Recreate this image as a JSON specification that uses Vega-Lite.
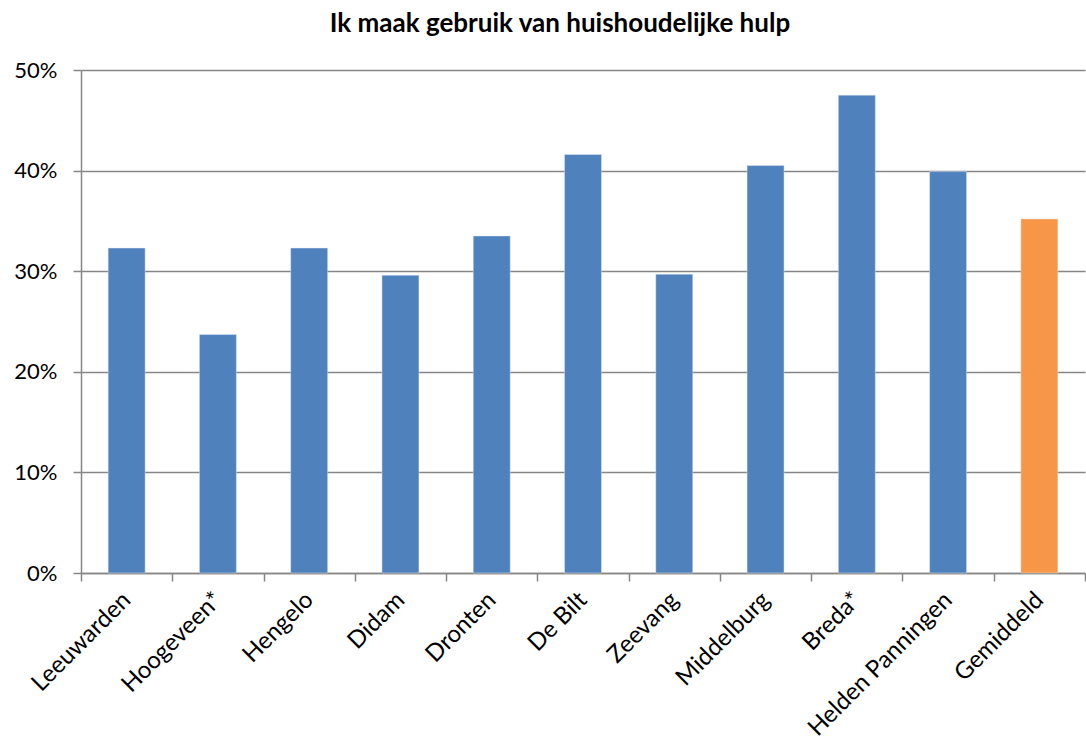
{
  "$schema": "https://vega.github.io/schema/vega-lite/v6.json",
  "width": 1004,
  "height": 503,
  "autosize": {"type": "none"},
  "padding": {"left": 81, "top": 70, "right": 1, "bottom": 171},
  "background": "#ffffff",
  "title": {
    "text": "Ik maak gebruik van huishoudelijke hulp",
    "font": "Lato",
    "fontSize": 26,
    "fontWeight": "bold",
    "color": "#000000",
    "anchor": "middle",
    "frame": "group",
    "dx": -23,
    "offset": 22
  },
  "data": {
    "values": [
      {"gemeente": "Leeuwarden", "pct": 0.323, "type": "gemeente"},
      {"gemeente": "Hoogeveen*", "pct": 0.237, "type": "gemeente"},
      {"gemeente": "Hengelo", "pct": 0.323, "type": "gemeente"},
      {"gemeente": "Didam", "pct": 0.296, "type": "gemeente"},
      {"gemeente": "Dronten", "pct": 0.335, "type": "gemeente"},
      {"gemeente": "De Bilt", "pct": 0.416, "type": "gemeente"},
      {"gemeente": "Zeevang", "pct": 0.297, "type": "gemeente"},
      {"gemeente": "Middelburg", "pct": 0.405, "type": "gemeente"},
      {"gemeente": "Breda*", "pct": 0.475, "type": "gemeente"},
      {"gemeente": "Helden Panningen", "pct": 0.399, "type": "gemeente"},
      {"gemeente": "Gemiddeld", "pct": 0.352, "type": "gemiddeld"}
    ]
  },
  "mark": {"type": "bar", "width": {"band": 0.405}, "stroke": "#dfe8f3", "strokeWidth": 0.8, "strokeOpacity": 0.6},
  "encoding": {
    "x": {
      "field": "gemeente",
      "type": "nominal",
      "sort": null,
      "title": null,
      "scale": {"paddingInner": 0, "paddingOuter": 0},
      "axis": {
        "labelAngle": -45,
        "labelAlign": "right",
        "labelBaseline": "middle",
        "labelFont": "Lato",
        "labelFontSize": 24,
        "labelColor": "#000000",
        "labelPadding": 15,
        "labelLimit": 400,
        "domainColor": "#868686",
        "domainWidth": 1.5,
        "tickColor": "#868686",
        "tickWidth": 1.5,
        "tickSize": 8,
        "tickBand": "extent",
        "grid": false
      }
    },
    "y": {
      "field": "pct",
      "type": "quantitative",
      "title": null,
      "scale": {"domain": [0, 0.5], "nice": false},
      "axis": {
        "format": ".0%",
        "values": [0, 0.1, 0.2, 0.3, 0.4, 0.5],
        "labelFont": "Lato",
        "labelFontSize": 22,
        "labelColor": "#000000",
        "labelPadding": 16,
        "domainColor": "#868686",
        "domainWidth": 1.5,
        "tickColor": "#868686",
        "tickWidth": 1.5,
        "tickSize": 8,
        "grid": true,
        "gridColor": "#868686",
        "gridWidth": 1.5
      }
    },
    "color": {
      "field": "type",
      "type": "nominal",
      "scale": {"domain": ["gemeente", "gemiddeld"], "range": ["#4F81BD", "#F79646"]},
      "legend": null
    }
  },
  "config": {"view": {"stroke": null}}
}
